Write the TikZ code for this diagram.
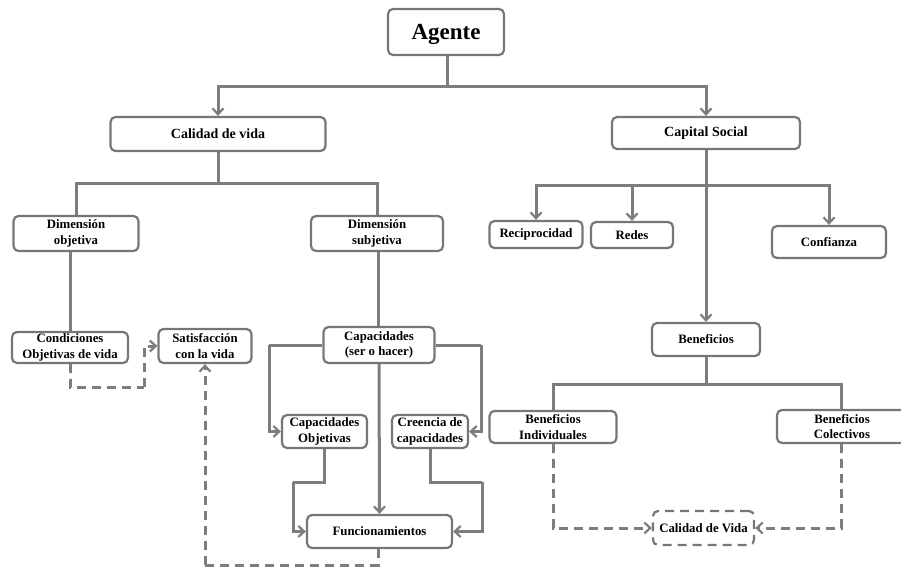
\documentclass[tikz,border=0pt]{standalone}
\usepackage{fontspec}
\setmainfont{Liberation Serif}
\usetikzlibrary{arrows.meta}
\definecolor{lc}{RGB}{125,125,125}
\definecolor{bc}{RGB}{118,118,118}
\begin{document}
\begin{tikzpicture}[x=1pt,y=-1pt,
  box/.style={draw=bc,line width=2.2pt,rounded corners=5pt,fill=white,inner sep=0pt,align=center,font=\fontsize{12.8}{15.5}\selectfont\bfseries},
  bigbox/.style={box,font=\fontsize{14}{16}\selectfont\bfseries},
  dbox/.style={box,dash pattern=on 9pt off 6pt},
  tip/.style={-{Straight Barb[length=6pt,width=11pt,line width=2.2pt]}},
  conn/.style={draw=lc,line width=3pt},
  arr/.style={conn,tip},
  dconn/.style={conn,dash pattern=on 9pt off 6pt}]
\useasboundingbox (0,0) rectangle (901,569);
% nodes
\node[box,font=\fontsize{23}{27}\selectfont\bfseries,minimum width=116pt,minimum height=46pt,text depth=0pt] (agente) at (446,32) {Agente};
\node[bigbox,minimum width=215pt,minimum height=34pt] (cdv) at (218,134) {Calidad de vida};
\node[bigbox,minimum width=188pt,minimum height=32pt] (cs) at (706,133) {Capital Social};
\node[box,minimum width=125pt,minimum height=35pt] (dobj) at (76,233.5) {Dimensión\\objetiva};
\node[box,minimum width=132pt,minimum height=35pt] (dsub) at (377,233.5) {Dimensión\\subjetiva};
\node[box,minimum width=93pt,minimum height=27pt] (recip) at (536,234.5) {Reciprocidad};
\node[box,minimum width=82pt,minimum height=26pt] (redes) at (632,235) {Redes};
\node[box,minimum width=114pt,minimum height=32pt] (conf) at (829,242) {Confianza};
\node[box,minimum width=116pt,minimum height=31pt] (cond) at (70,347.5) {Condiciones\\Objetivas de vida};
\node[box,minimum width=93pt,minimum height=34pt] (satis) at (205,346) {Satisfacción\\con la vida};
\node[box,minimum width=111pt,minimum height=36pt] (capac) at (379,345) {Capacidades\\(ser o hacer)};
\node[box,minimum width=85pt,minimum height=33pt] (capobj) at (324.5,431.5) {Capacidades\\Objetivas};
\node[box,minimum width=76pt,minimum height=33pt] (creen) at (430,431.5) {Creencia de\\capacidades};
\node[box,minimum width=145pt,minimum height=33pt] (func) at (379.5,531.5) {Funcionamientos};
\node[box,minimum width=108pt,minimum height=33pt] (ben) at (706,339.5) {Beneficios};
\node[box,minimum width=127pt,minimum height=32pt] (benind) at (553,427) {Beneficios\\Individuales};
\node[box,minimum width=130pt,minimum height=33pt] (bencol) at (842,426.5) {Beneficios\\Colectivos};
\node[dbox,minimum width=101pt,minimum height=34pt] (cvida) at (703.5,528) {Calidad de Vida};
% junction coordinates
\coordinate (j1) at (447,87);
\coordinate (j2) at (218,184);
\coordinate (j3) at (706,186);
\coordinate (j4) at (706,384);
\coordinate (d1) at (144,387);
\coordinate (d2) at (205,565);
\coordinate (c1) at (269,345);
\coordinate (c2) at (481,345);
\coordinate (c3) at (293,482);
\coordinate (c4) at (482,482);
% connectors
\draw[conn] (agente.south -| j1) -- (j1);
\draw[arr] (j1) -| (cdv.north);
\draw[arr] (j1) -| (cs.north);
\draw[conn] (cdv.south) -- (j2);
\draw[conn] (j2) -| (dobj.north);
\draw[conn] (j2) -| (dsub.north);
\draw[conn] (dobj.south -| cond.north) -- (cond.north);
\draw[conn] (dsub.south -| 378,0) -- (capac.north -| 378,0);
\draw[arr] (cs.south) -- (ben.north);
\draw[arr] (j3) -| (recip.north);
\draw[arr] (j3) -| (redes.north);
\draw[arr] (j3) -| (conf.north);
\draw[conn] (capac.west) -- (c1);
\draw[arr] (c1) |- (capobj.west);
\draw[conn] (capac.east) -- (c2);
\draw[arr] (c2) |- (creen.east);
\draw[arr] (capac.south) -- (func.north);
\draw[conn] (capobj.south) |- (c3);
\draw[arr] (c3) |- (func.west);
\draw[conn] (creen.south) |- (c4);
\draw[arr] (c4) |- (func.east);
\draw[conn] (ben.south) -- (j4);
\draw[conn] (j4) -| (benind.north);
\draw[conn] (j4) -| (bencol.north -| 841,0);
% dashed connectors
\draw[dconn] (cond.south) |- (d1);
\draw[dconn,tip] (d1) |- (satis.west);
\draw[dconn] (func.south -| 378,0) |- (d2);
\draw[dconn,tip] (d2) -- (satis.south);
\draw[dconn,tip] (benind.south) |- (cvida.west);
\draw[dconn,tip] (bencol.south -| 841,0) |- (cvida.east);
\end{tikzpicture}
\end{document}
